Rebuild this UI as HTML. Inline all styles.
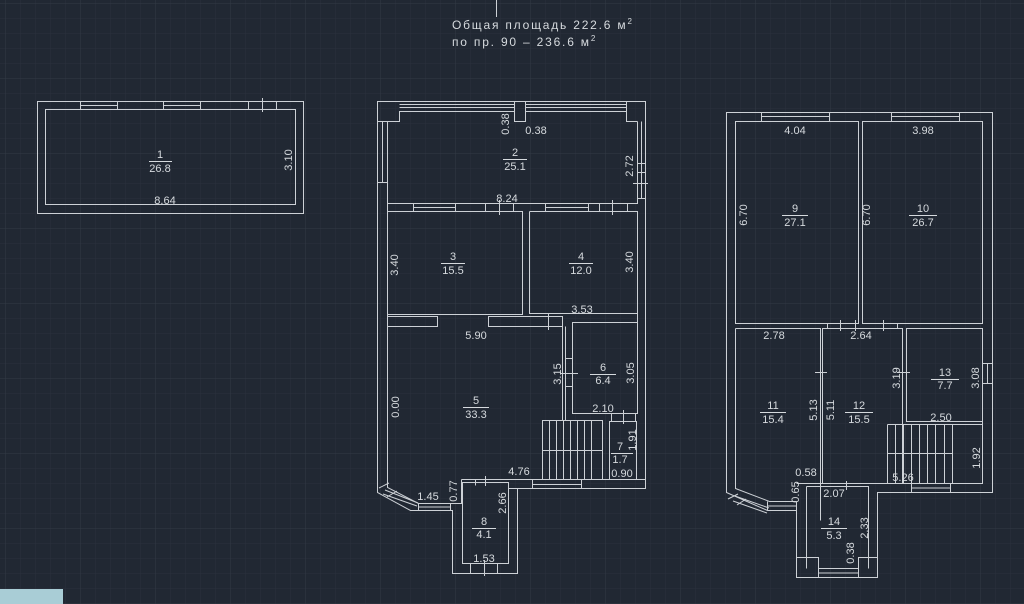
<!DOCTYPE html>
<html><head><meta charset="utf-8"><style>
html,body{margin:0;padding:0;background:#212833;}
svg{display:block}
text{font-family:"Liberation Sans","DejaVu Sans",sans-serif;fill:#d6dade;font-size:11px;}
</style></head><body>
<svg width="1024" height="604" viewBox="0 0 1024 604" xmlns="http://www.w3.org/2000/svg">
<defs>
<pattern id="mn" width="15" height="15" patternUnits="userSpaceOnUse" x="5" y="3"><path d="M0 0H15M0 0V15" stroke="#2a313c" stroke-width="1" fill="none"/></pattern>
<pattern id="mj" width="75" height="75" patternUnits="userSpaceOnUse" x="5" y="3"><path d="M0 0H75M0 0V75" stroke="#323a46" stroke-width="1" fill="none"/></pattern>
</defs>
<rect width="1024" height="604" fill="#212833"/>
<rect width="1024" height="604" fill="url(#mn)"/>
<rect width="1024" height="604" fill="url(#mj)"/>
<rect x="0" y="589" width="63" height="15" fill="#a9cdd6"/>

<g stroke="#cdd1d6" stroke-width="1" fill="none">
<path d="M496.5 0V17"/>
<!-- Plan 1 -->
<rect x="37.5" y="101.5" width="266" height="112"/>
<rect x="45.5" y="109.5" width="250" height="95"/>
<path d="M80.5 101.5V109.5M117.5 101.5V109.5M80.5 105.5H117.5M163.5 101.5V109.5M200.5 101.5V109.5M163.5 105.5H200.5M248.5 101.5V109.5M276.5 101.5V109.5M262.5 98V112"/>

<!-- Plan 2 -->
<path d="M377.5 101.5H645.5V488.5H517.5V573.5H452.5V510.5H410.5L377.5 492.5Z"/>
<path d="M399.5 104.5H514.5M399.5 107.5H514.5M525.5 104.5H626.5M525.5 107.5H626.5"/>
<path d="M377.5 121.5H399.5V111.5H514.5V121.5H525.5V111.5H626.5V121.5H637.5"/>
<path d="M514.5 101.5V111.5M525.5 101.5V111.5M626.5 101.5V111.5"/>
<path d="M382.5 121.5V182.5M377.5 182.5H387.5M641.5 121.5V198.5M637.5 198.5H645.5M633 183.5H648M637.5 163.5H645.5M637.5 172.5H645.5"/>
<path d="M387.5 121.5V487.5L418.5 503.5H461.5V479.5"/>
<path d="M637.5 121.5V203.5H387.5M387.5 211.5H522.5V314.5H387.5M529.5 211.5H637.5V313.5H529.5V211.5"/>
<path d="M637.5 211.5V413.5"/>
<path d="M413.5 203.5V211.5M455.5 203.5V211.5M413.5 207.5H455.5M485.5 203.5V211.5M513.5 203.5V211.5M499.5 200V215M545.5 203.5V211.5M588.5 203.5V211.5M545.5 207.5H588.5M599.5 203.5V211.5M627.5 203.5V211.5M612.5 200V215"/>
<path d="M387.5 316.5H437.5V326.5H387.5M488.5 316.5H562.5V326.5H488.5ZM548.5 313V330M562.5 326.5V420.5M565.5 326.5V420.5H542.5"/>
<path d="M572.5 322.5H637.5V413.5H572.5Z"/>
<path d="M565.5 358.5H572.5M565.5 386.5H572.5M560 373.5H578"/>
<path d="M611.5 413.5V421.5M635.5 413.5V421.5M623.5 410V424M609.5 421.5H636.5V479.5H609.5Z"/>
<path d="M542.5 420.5H602.5V479.5H542.5ZM542.5 450.5H602.5M549.5 420.5V479.5M556.5 420.5V479.5M563.5 420.5V479.5M570.5 420.5V479.5M577.5 420.5V479.5M584.5 420.5V479.5M591.5 420.5V479.5"/>
<path d="M461.5 479.5H645.5M532.5 479.5V488.5M581.5 479.5V488.5M532.5 484.5H581.5"/>
<path d="M462.5 482.5H508.5V563.5H462.5ZM508.5 488.5H517.5M461.5 479.5V482.5M475.5 479.5V485.5M485.5 476V486"/>
<path d="M470.5 563.5V573.5M497.5 563.5V573.5M484.5 560V576"/>
<path d="M379 488L389 483M387 497L397 491M383 494L417 506M385 490L418 503M418.5 503.5V510.5M450.5 503.5V510.5M418.5 507H450.5"/>

<!-- Plan 3 -->
<path d="M726.5 112.5H992.5V492.5H877.5V577.5H796.5V510.5H767.5L726.5 492.5Z"/>
<rect x="735.5" y="121.5" width="123" height="202"/>
<rect x="862.5" y="121.5" width="120" height="202"/>
<path d="M761.5 112.5V121.5M829.5 112.5V121.5M761.5 116.5H829.5M891.5 112.5V121.5M959.5 112.5V121.5M891.5 116.5H959.5"/>
<path d="M735.5 328.5H820.5V520.5M735.5 328.5V488.5L769.5 501.5H796.5"/>
<path d="M822.5 328.5H902.5V483.5H822.5Z"/>
<path d="M906.5 328.5H982.5V421.5H906.5Z"/>
<path d="M982.5 328.5V483.5H877.5M887.5 424.5H982.5M887.5 424.5V483.5H952.5V424.5M887.5 453.5H952.5M895.5 424.5V483.5M903.5 424.5V483.5M911.5 424.5V483.5M919.5 424.5V483.5M927.5 424.5V483.5M935.5 424.5V483.5M944.5 424.5V483.5"/>
<path d="M911.5 483.5V492.5M950.5 483.5V492.5M911.5 488H950.5"/>
<path d="M982.5 363.5H992.5M982.5 383.5H992.5M987.5 363.5V383.5"/>
<path d="M827.5 323.5V328.5M897.5 323.5V328.5M840.5 320V331M855.5 320V331M883.5 320V331"/>
<path d="M820.5 358.5V386.5M815 372.5H827M902.5 358.5V386.5M897 372.5H910"/>
<path d="M806.5 486.5H868.5V568.5M806.5 486.5V568.5M796.5 483.5H877.5M846.5 481V490M820.5 483.5V486.5"/>
<path d="M796.5 557.5H818.5V577.5M877.5 557.5H858.5V577.5M818.5 568.5H858.5M818.5 573H858.5M868.5 512V545M877.5 512V545"/>
<path d="M728 499L738 494M737 505L746 499M733 501L767 513M735 496L769 508M767.5 501.5V510.5M796.5 501.5V510.5M767.5 506H796.5"/>
</g>

<g fill="none" stroke="#d6dade" stroke-width="1">
<path d="M149 161.5H172M503 159.5H527M441 263.5H465M569 263.5H593M463 407.5H489M590 374.5H616M611 453.5H633M472 528.5H496M782 215.5H808M909 215.5H937M760 412.5H786M845 412.5H873M931 379.5H959M821 528.5H847"/>
</g>

<g text-anchor="middle">
<text x="160" y="158">1</text><text x="160" y="172">26.8</text>
<text x="515" y="156">2</text><text x="515" y="170">25.1</text>
<text x="453" y="260">3</text><text x="453" y="274">15.5</text>
<text x="581" y="260">4</text><text x="581" y="274">12.0</text>
<text x="476" y="404">5</text><text x="476" y="418">33.3</text>
<text x="603" y="371">6</text><text x="603" y="384">6.4</text>
<text x="620" y="450">7</text><text x="620" y="463">1.7</text>
<text x="484" y="525">8</text><text x="484" y="538">4.1</text>
<text x="795" y="212">9</text><text x="795" y="226">27.1</text>
<text x="923" y="212">10</text><text x="923" y="226">26.7</text>
<text x="773" y="409">11</text><text x="773" y="423">15.4</text>
<text x="859" y="409">12</text><text x="859" y="423">15.5</text>
<text x="945" y="376">13</text><text x="945" y="389">7.7</text>
<text x="834" y="525">14</text><text x="834" y="539">5.3</text>

<text x="165" y="204">8.64</text>
<text x="536" y="134">0.38</text>
<text x="507" y="202">8.24</text>
<text x="582" y="313">3.53</text>
<text x="476" y="339">5.90</text>
<text x="603" y="412">2.10</text>
<text x="622" y="477">0.90</text>
<text x="519" y="475">4.76</text>
<text x="428" y="500">1.45</text>
<text x="484" y="562">1.53</text>
<text x="795" y="134">4.04</text>
<text x="923" y="134">3.98</text>
<text x="774" y="339">2.78</text>
<text x="861" y="339">2.64</text>
<text x="941" y="421">2.50</text>
<text x="903" y="481">5.26</text>
<text x="806" y="476">0.58</text>
<text x="834" y="497">2.07</text>

<text transform="translate(292,160) rotate(-90)">3.10</text>
<text transform="translate(509,124) rotate(-90)">0.38</text>
<text transform="translate(633,166) rotate(-90)">2.72</text>
<text transform="translate(398,265) rotate(-90)">3.40</text>
<text transform="translate(633,262) rotate(-90)">3.40</text>
<text transform="translate(561,374) rotate(-90)">3.15</text>
<text transform="translate(634,373) rotate(-90)">3.05</text>
<text transform="translate(399,407) rotate(-90)">0.00</text>
<text transform="translate(636,440) rotate(-90)">1.91</text>
<text transform="translate(457,491) rotate(-90)">0.77</text>
<text transform="translate(506,503) rotate(-90)">2.66</text>
<text transform="translate(747,215) rotate(-90)">6.70</text>
<text transform="translate(870,215) rotate(-90)">6.70</text>
<text transform="translate(900,378) rotate(-90)">3.19</text>
<text transform="translate(979,378) rotate(-90)">3.08</text>
<text transform="translate(817,410) rotate(-90)">5.13</text>
<text transform="translate(834,410) rotate(-90)">5.11</text>
<text transform="translate(980,458) rotate(-90)">1.92</text>
<text transform="translate(799,492) rotate(-90)">0.65</text>
<text transform="translate(868,528) rotate(-90)">2.33</text>
<text transform="translate(854,553) rotate(-90)">0.38</text>
</g>

<text x="452" y="29" style="font-size:12px;letter-spacing:1.8px">Общая площадь 222.6 м<tspan dy="-5" style="font-size:8px">2</tspan></text>
<text x="452" y="46" style="font-size:12px;letter-spacing:1.8px">по пр. 90 – 236.6 м<tspan dy="-5" style="font-size:8px">2</tspan></text>
</svg>
</body></html>
